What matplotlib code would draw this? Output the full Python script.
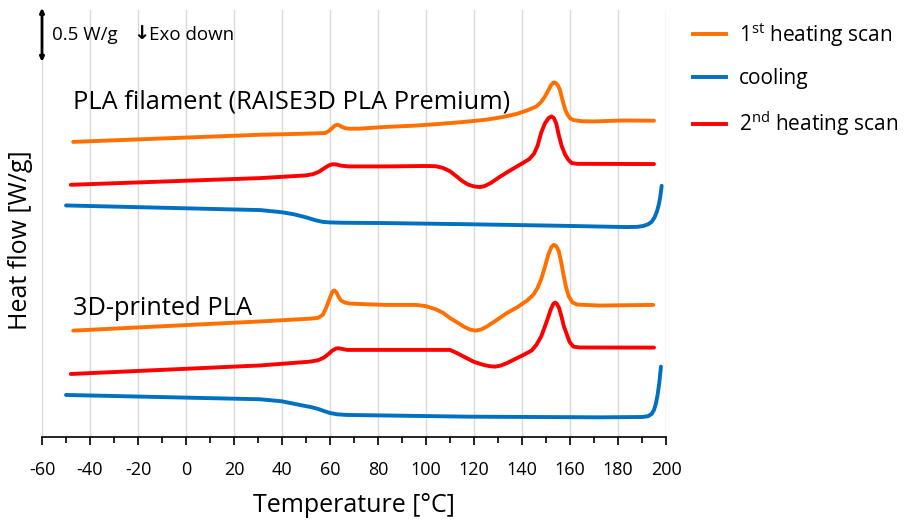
import matplotlib.pyplot as plt
from matplotlib.lines import Line2D

plt.rcParams['font.family'] = ['Open Sans', 'DejaVu Sans']
plt.rcParams['mathtext.default'] = 'regular'
plt.rcParams['axes.unicode_minus'] = False

# PLA filament (RAISE3D PLA Premium), heat flow in W/g with a vertical offset
fil_h1_T = [-47, 0, 31, 50, 58, 59.5, 61, 62, 63, 64, 65, 66.5, 68, 72, 83, 95, 105, 115,
            125, 132, 138, 142, 146, 148, 149.6, 151, 152, 153, 153.5, 154.2, 155, 155.8,
            156.5, 157.3, 158, 159, 160, 161.5, 165, 170, 182, 195]
fil_h1_q = [2.73, 2.77, 2.796, 2.806, 2.812, 2.83, 2.86, 2.88, 2.889, 2.882, 2.868, 2.856,
            2.852, 2.852, 2.868, 2.88, 2.895, 2.913, 2.935, 2.96, 2.99, 3.02, 3.058, 3.10,
            3.151, 3.208, 3.25, 3.278, 3.28, 3.273, 3.25, 3.213, 3.148, 3.083, 3.028, 2.981,
            2.949, 2.931, 2.921, 2.919, 2.928, 2.926]

fil_c_T = [-50, 31, 40, 45, 50, 54, 57, 60, 65, 83, 118, 156, 183.6, 188, 190.5, 192.5,
           194, 195.2, 196.2, 197, 197.6, 198.2]
fil_c_q = [2.142, 2.099, 2.079, 2.06, 2.032, 2.005, 1.99, 1.985, 1.982, 1.979, 1.968, 1.954,
           1.942, 1.944, 1.952, 1.967, 1.99, 2.03, 2.085, 2.15, 2.22, 2.324]

fil_h2_T = [-48, 31, 50, 53, 55.5, 57.5, 59.5, 61, 62.5, 64.5, 68, 83, 100, 104, 107, 110,
            112.5, 115, 117.5, 120, 122.5, 124.5, 127, 131, 135, 140, 143, 145, 146.5, 148,
            149.5, 151, 152.3, 153.3, 154.3, 155.3, 156.5, 158, 159.3, 160.7, 163, 195]
fil_h2_q = [2.333, 2.395, 2.42, 2.432, 2.455, 2.485, 2.512, 2.523, 2.522, 2.51, 2.503,
            2.503, 2.507, 2.505, 2.49, 2.458, 2.415, 2.37, 2.335, 2.318, 2.312, 2.322, 2.35,
            2.41, 2.465, 2.53, 2.57, 2.62, 2.694, 2.815, 2.898, 2.949, 2.966, 2.949, 2.898,
            2.796, 2.694, 2.611, 2.565, 2.534, 2.527, 2.525]

# 3D-printed PLA
pr_h1_T = [-47, 31, 52, 55, 57, 58.5, 60, 61, 61.8, 62.6, 63.5, 64.5, 66, 68, 75, 83, 96,
           100, 104, 107, 110, 113, 116, 118.5, 120.8, 123, 125.3, 129, 133.6, 138, 142,
           144.7, 146.5, 148, 149.5, 151, 152.3, 153.3, 154.3, 155.3, 156.3, 157.3, 158.3,
           159.5, 161, 163, 172.5, 194.7]
pr_h1_q = [0.984, 1.069, 1.095, 1.102, 1.13, 1.2, 1.29, 1.345, 1.356, 1.34, 1.3, 1.265,
           1.245, 1.235, 1.228, 1.222, 1.222, 1.21, 1.182, 1.15, 1.1, 1.06, 1.018, 0.992,
           0.984, 0.995, 1.021, 1.075, 1.145, 1.2, 1.26, 1.315, 1.38, 1.46, 1.57, 1.69,
           1.76, 1.778, 1.765, 1.72, 1.62, 1.5, 1.39, 1.3, 1.245, 1.225, 1.216, 1.222]

pr_c_T = [-50, 31, 40, 47.5, 52, 55, 57.5, 60, 63, 67, 118, 172.5, 190, 192.5, 194, 195,
          195.8, 196.5, 197.2, 197.9]
pr_c_q = [0.389, 0.349, 0.33, 0.296, 0.277, 0.26, 0.24, 0.222, 0.21, 0.204, 0.188, 0.182,
          0.185, 0.192, 0.213, 0.25, 0.31, 0.39, 0.5, 0.651]

pr_h2_T = [-48, 31, 51.7, 55, 57.5, 59.5, 61, 62.5, 63.5, 65, 67, 83, 110, 113, 117, 120,
           123.9, 126.5, 128.8, 131, 133.6, 137, 140.6, 144, 146, 148, 149.5, 150.8, 152,
           153.1, 153.8, 154.6, 155.5, 156.5, 157.5, 158.6, 159.8, 161.4, 164, 195]
pr_h2_q = [0.583, 0.662, 0.697, 0.71, 0.735, 0.77, 0.8, 0.818, 0.821, 0.815, 0.806, 0.806,
           0.806, 0.775, 0.729, 0.695, 0.667, 0.655, 0.651, 0.66, 0.682, 0.72, 0.759, 0.8,
           0.852, 0.93, 1.02, 1.1, 1.18, 1.233, 1.244, 1.23, 1.19, 1.11, 1.02, 0.955, 0.88,
           0.836, 0.828, 0.827]

orange = '#FF7000'
blue = '#0070C0'
red = '#FF0000'
lw = 2.8

fig = plt.figure(figsize=(9.06, 5.22), dpi=100)
ax = fig.add_axes([42/906, 1-437/522, 624/906, 427/522])

for T, q, c in [(fil_h1_T, fil_h1_q, orange), (fil_c_T, fil_c_q, blue), (fil_h2_T, fil_h2_q, red),
                (pr_h1_T, pr_h1_q, orange), (pr_c_T, pr_c_q, blue), (pr_h2_T, pr_h2_q, red)]:
    ax.plot(T, q, color=c, lw=lw, solid_joinstyle='round', solid_capstyle='round')

ax.set_xlim(-60, 200)
ax.set_ylim(0, 3.95)
ax.set_xticks(range(-60, 201, 20))
ax.set_xticks(range(-50, 200, 20), minor=True)
ax.set_yticks([])
ax.grid(axis='x', color='#D9D9D9', lw=1)
ax.set_axisbelow(True)
for s in ['left', 'right', 'top']:
    ax.spines[s].set_visible(False)
ax.spines['bottom'].set_linewidth(1.2)
ax.tick_params(axis='x', which='major', direction='out', length=6, width=1.2, labelsize=13, pad=11)
ax.tick_params(axis='x', which='minor', direction='out', length=4.5, width=1.2)

ax.set_xlabel('Temperature [°C]', fontsize=18, labelpad=10)
ax.set_ylabel('Heat flow [W/g]', fontsize=18)
ax.yaxis.set_label_coords(-0.014, 0.46)

# scale bar for 0.5 W/g
ax.annotate('', xy=(-60, 3.47), xytext=(-60, 3.97), annotation_clip=False,
            arrowprops=dict(arrowstyle='<|-|>,head_length=0.25,head_width=0.12', lw=2,
                            color='black', shrinkA=0, shrinkB=0))
ax.text(-56, 3.72, '0.5 W/g', fontsize=13.5, va='center', ha='left')
ax.text(-18.5, 3.73, '\u2193', fontsize=14, va='center', ha='center', fontweight='bold',
        family=['DejaVu Sans'])
ax.text(-15.5, 3.72, 'Exo down', fontsize=13.5, va='center', ha='left')

ax.text(-47, 3.1, 'PLA filament (RAISE3D PLA Premium)', fontsize=18.3, va='center', ha='left')
ax.text(-47, 1.19, '3D-printed PLA', fontsize=18.3, va='center', ha='left')

handles = [Line2D([], [], color=orange, lw=lw), Line2D([], [], color=blue, lw=lw),
           Line2D([], [], color=red, lw=lw)]
labels = ['1$^{st}$ heating scan', 'cooling', '2$^{nd}$ heating scan']
fig.legend(handles, labels, loc='upper left', bbox_to_anchor=(674/906, 1-2/522),
           frameon=False, fontsize=15, handlelength=1.6, labelspacing=0.95, handletextpad=0.6)

fig.savefig('out.png', dpi=100)
